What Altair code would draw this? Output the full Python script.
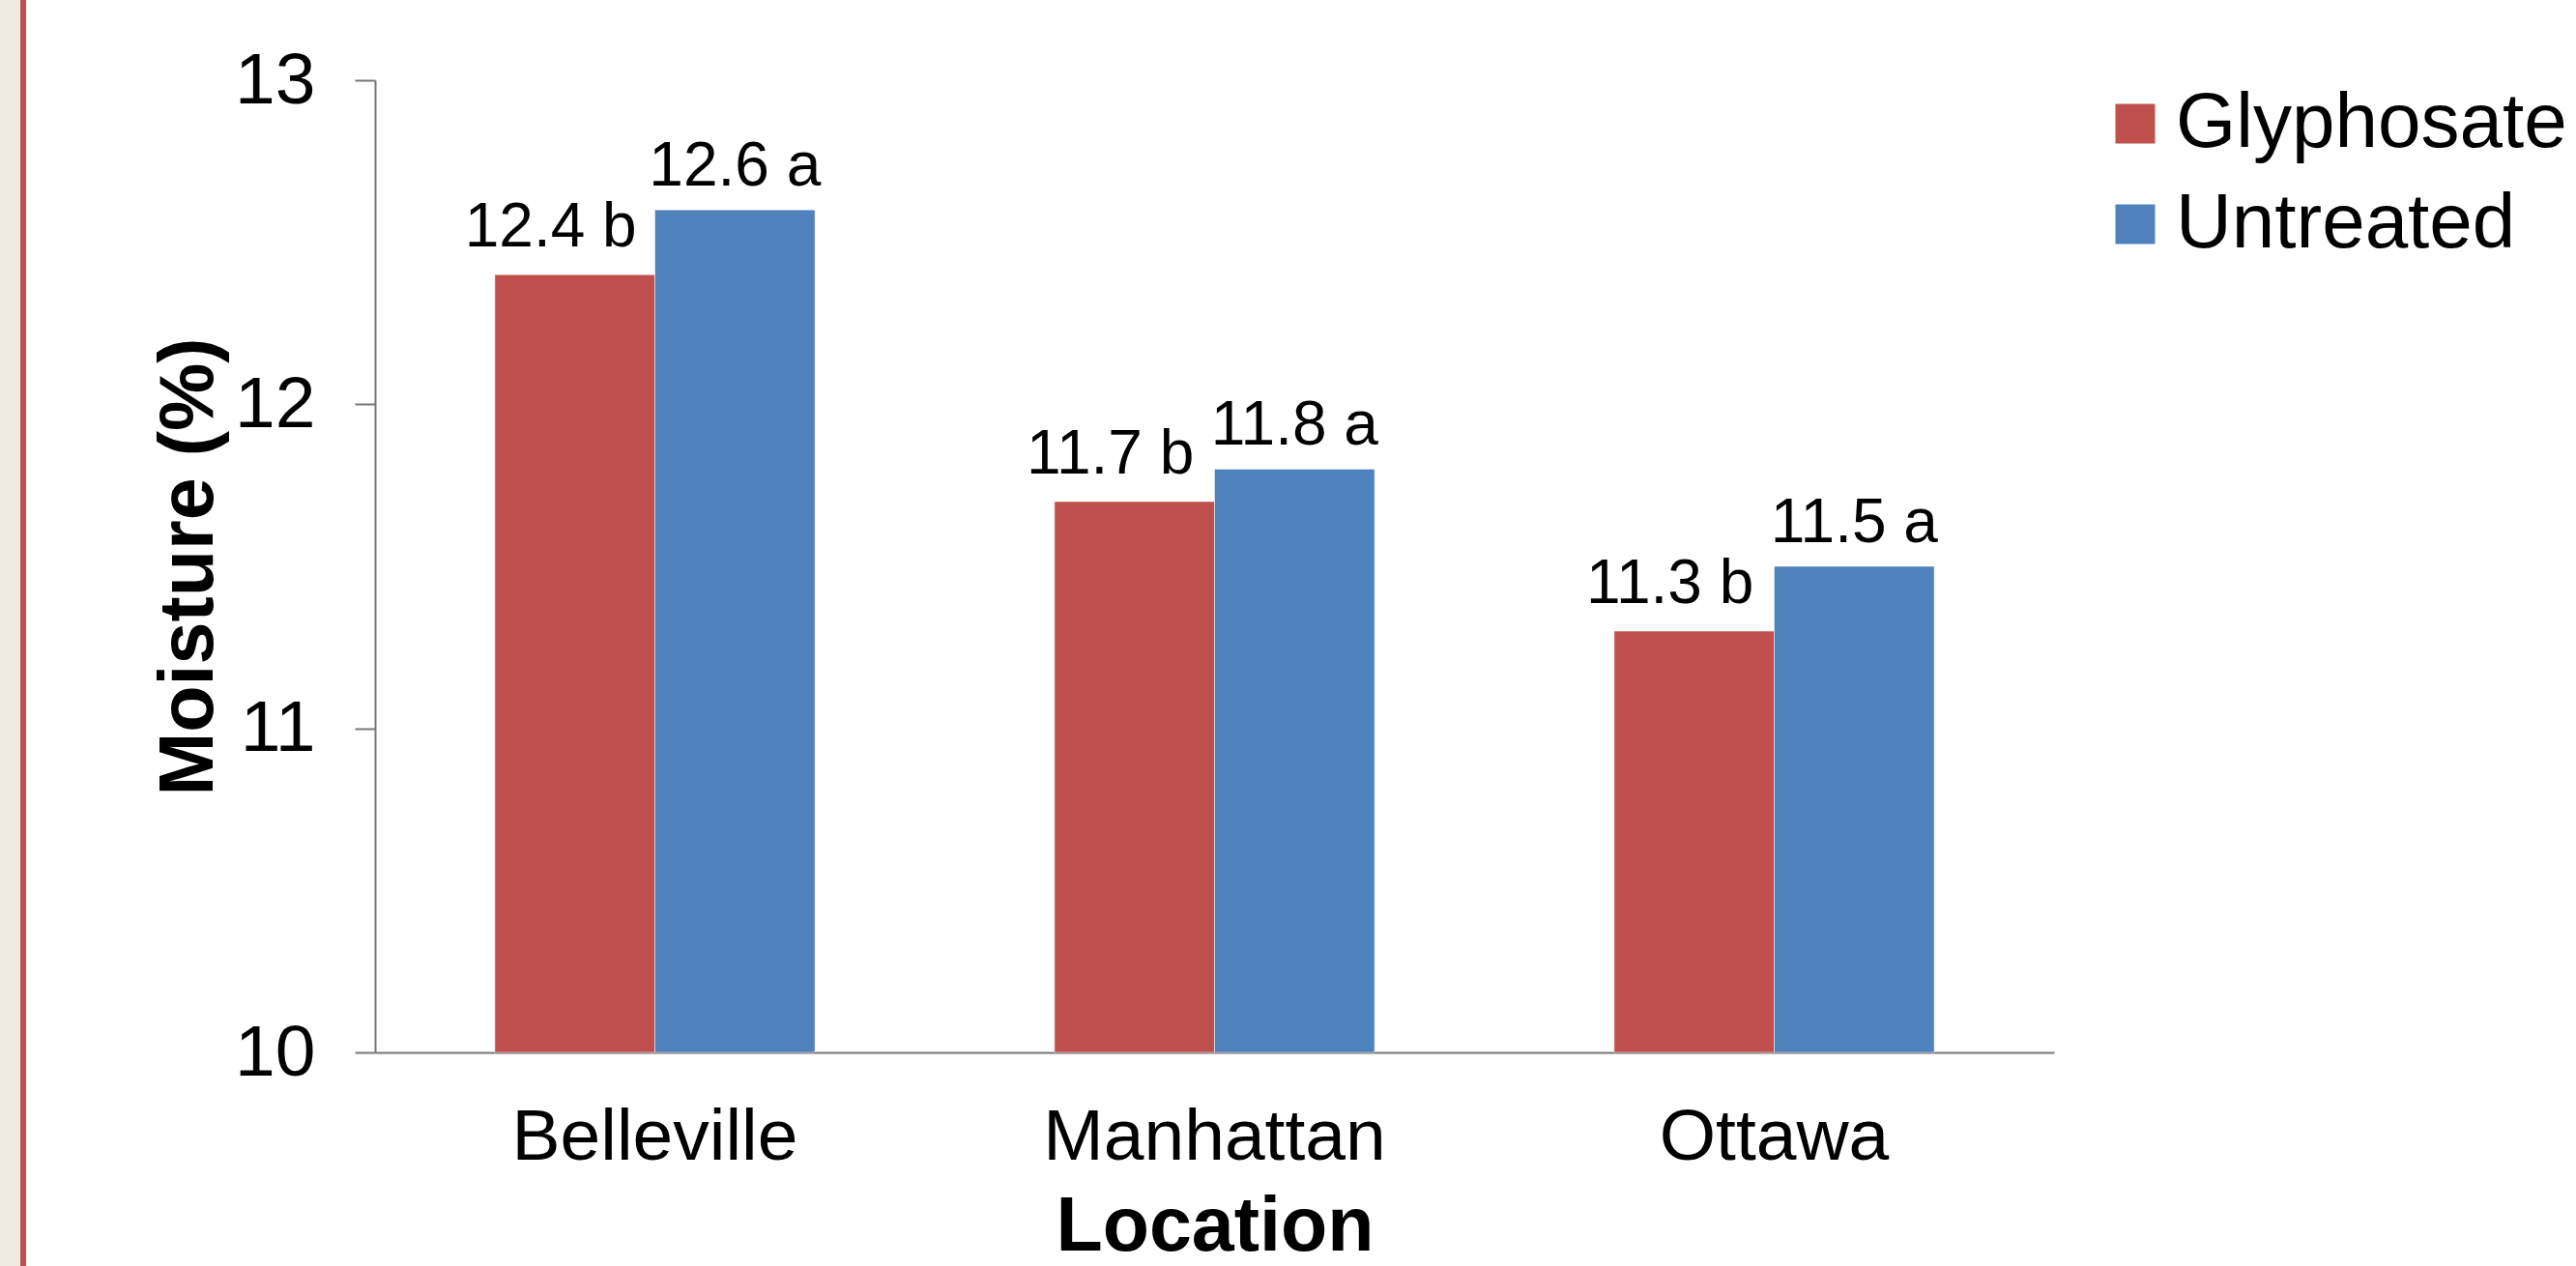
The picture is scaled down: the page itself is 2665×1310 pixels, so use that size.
import altair as alt
import pandas as pd

locations = ["Belleville", "Manhattan", "Ottawa"]
treatments = ["Glyphosate", "Untreated"]
glyphosate = [12.4, 11.7, 11.3]
untreated = [12.6, 11.8, 11.5]
glyphosate_letters = ["b", "b", "b"]
untreated_letters = ["a", "a", "a"]
y_ticks = [10, 11, 12, 13]

rows = []
for loc, g, gl, u, ul in zip(locations, glyphosate, glyphosate_letters, untreated, untreated_letters):
    rows.append({"Location": loc, "Treatment": "Glyphosate", "Moisture": g, "Label": f"{g:.1f} {gl}"})
    rows.append({"Location": loc, "Treatment": "Untreated", "Moisture": u, "Label": f"{u:.1f} {ul}"})
df = pd.DataFrame(rows)

FONT = "Liberation Sans"
RED = "#C0504D"
BLUE = "#4F81BD"
AXIS_GRAY = "#767676"

W, H = 1737, 1006
PAD_L, PAD_T = 388, 83

x_enc = alt.X("Location:N", sort=locations,
              scale=alt.Scale(paddingInner=0.428, paddingOuter=0.214),
              axis=alt.Axis(title="Location", ticks=False, labelAngle=0, labelLimit=0,
                            labelFontSize=75, labelFont=FONT, labelColor="black",
                            labelPadding=51, domainColor=AXIS_GRAY, domainWidth=2,
                            titleFont=FONT, titleFontSize=79, titleFontWeight="bold",
                            titleColor="black", titleBaseline="alphabetic", titleY=204))
xoff = alt.XOffset("Treatment:N", sort=treatments)
y_scale = alt.Scale(domain=[10, 13], zero=False, nice=False)
color_enc = alt.Color("Treatment:N", sort=treatments,
                      scale=alt.Scale(domain=treatments, range=[RED, BLUE]),
                      legend=alt.Legend(title=None, orient="none", legendX=1781, legendY=5,
                                        symbolType="square", symbolSize=1681,
                                        symbolStrokeWidth=0, labelFont=FONT,
                                        labelFontSize=80, labelColor="black", labelLimit=0,
                                        labelOffset=2, rowPadding=24, padding=0))

bars = alt.Chart(df).mark_bar(stroke="white", strokeWidth=0.5).encode(
    x=x_enc,
    xOffset=xoff,
    y=alt.Y("Moisture:Q", scale=y_scale,
            axis=alt.Axis(title="Moisture (%)", values=y_ticks, format="d", grid=False,
                          tickSize=21, tickColor=AXIS_GRAY, tickWidth=2,
                          domainColor=AXIS_GRAY, domainWidth=2,
                          labelFont=FONT, labelFontSize=75, labelColor="black",
                          labelPadding=41, titleFont=FONT, titleFontSize=79,
                          titleFontWeight="bold", titleColor="black",
                          titleBaseline="alphabetic", titleX=-169)),
    y2=alt.datum(10),
    color=color_enc,
)

text_g = alt.Chart(df).transform_filter(alt.datum.Treatment == "Glyphosate").mark_text(
    font=FONT, fontSize=64, color="black", baseline="alphabetic", dy=-29, dx=-25
).encode(x=alt.X("Location:N", sort=locations), xOffset=xoff,
         y=alt.Y("Moisture:Q", scale=y_scale), text="Label:N")

text_u = alt.Chart(df).transform_filter(alt.datum.Treatment == "Untreated").mark_text(
    font=FONT, fontSize=64, color="black", baseline="alphabetic", dy=-25
).encode(x=alt.X("Location:N", sort=locations), xOffset=xoff,
         y=alt.Y("Moisture:Q", scale=y_scale), text="Label:N")

strip = alt.Chart(df).mark_rect(color="#EEEBE0", clip=False).encode(
    x=alt.value(-PAD_L), x2=alt.value(-PAD_L + 21),
    y=alt.value(-PAD_T), y2=alt.value(1310 - PAD_T))
red_line = alt.Chart(df).mark_rect(color=RED, clip=False).encode(
    x=alt.value(-PAD_L + 21), x2=alt.value(-PAD_L + 27),
    y=alt.value(-PAD_T), y2=alt.value(1310 - PAD_T))

chart = alt.layer(strip, red_line, bars, text_g, text_u).properties(
    width=W, height=H,
    autosize=alt.AutoSizeParams(type="none"),
    padding={"left": PAD_L, "top": PAD_T, "right": 2665 - PAD_L - W, "bottom": 1310 - PAD_T - H},
    background="white",
).configure_view(stroke=None)

chart.save("out.html", embed_options={"renderer": "svg", "actions": False})
